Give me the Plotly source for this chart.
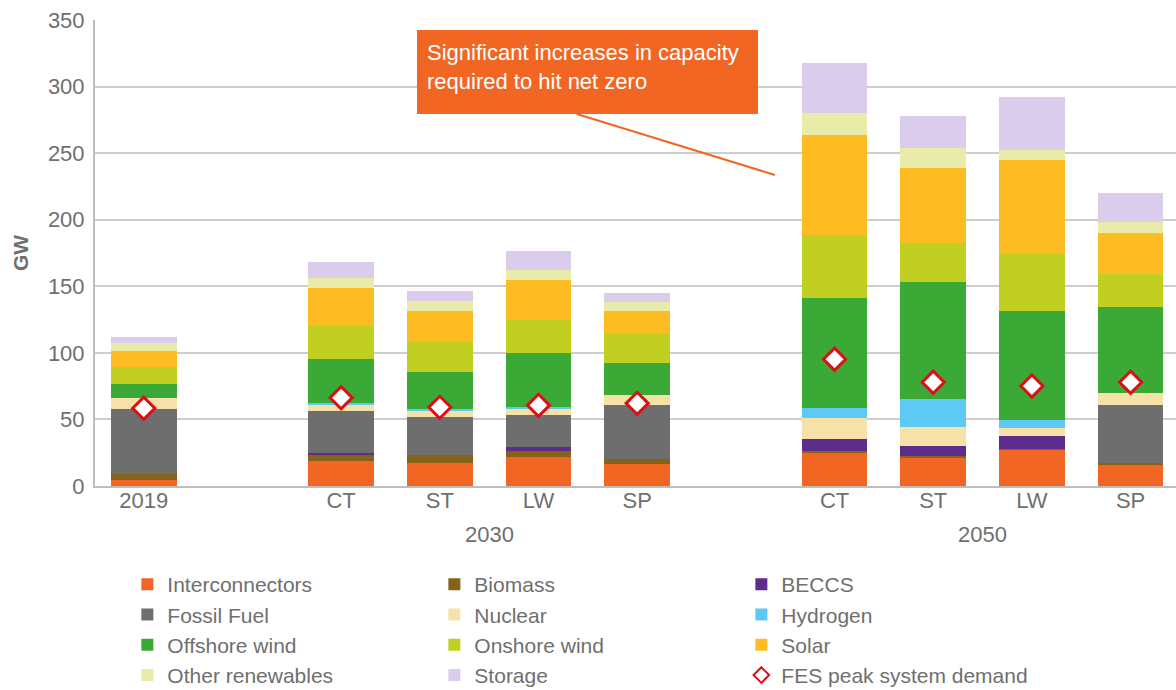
import plotly.graph_objects as go

# ---- data ----
categories = ["2019", "2030 CT", "2030 ST", "2030 LW", "2030 SP",
              "2050 CT", "2050 ST", "2050 LW", "2050 SP"]
tick_labels = ["2019", "CT", "ST", "LW", "SP", "CT", "ST", "LW", "SP"]
group_labels = ["2030", "2050"]

interconnectors = [4.5, 19.0, 17.5, 22.0, 16.3, 25.0, 21.5, 27.5, 15.8]
biomass = [4.3, 4.5, 5.6, 4.3, 3.7, 1.5, 1.3, 0.3, 1.2]
beccs = [0.0, 1.0, 0.0, 2.8, 0.0, 8.6, 7.5, 9.8, 0.0]
fossil_fuel = [49.1, 31.7, 29.0, 24.5, 40.6, 0.0, 0.0, 0.0, 43.6]
nuclear = [8.4, 4.3, 4.2, 4.3, 7.5, 15.7, 14.3, 6.2, 9.0]
hydrogen = [0.0, 1.5, 1.8, 1.7, 0.0, 7.6, 20.8, 5.8, 0.0]
offshore_wind = [10.1, 33.6, 27.3, 40.1, 24.5, 82.6, 88.1, 82.1, 65.1]
onshore_wind = [13.2, 24.7, 22.8, 25.0, 22.1, 47.6, 29.3, 42.4, 24.8]
solar = [11.8, 28.6, 23.3, 30.1, 17.0, 75.0, 56.4, 70.8, 30.6]
other_renewables = [5.8, 7.5, 7.5, 7.5, 6.3, 16.3, 14.5, 7.3, 8.0]
storage = [4.5, 12.0, 7.5, 14.3, 7.3, 37.6, 24.5, 40.3, 22.3]
peak_demand = [58.4, 66.3, 59.1, 60.6, 62.1, 95.2, 77.9, 75.1, 77.9]

# ---- styles ----
series = [
    ("Interconnectors", interconnectors, "#F26624"),
    ("Biomass", biomass, "#856419"),
    ("BECCS", beccs, "#5E2C8C"),
    ("Fossil Fuel", fossil_fuel, "#6E6E6E"),
    ("Nuclear", nuclear, "#F6E1A8"),
    ("Hydrogen", hydrogen, "#5DC9F4"),
    ("Offshore wind", offshore_wind, "#3BA935"),
    ("Onshore wind", onshore_wind, "#C1CF23"),
    ("Solar", solar, "#FDBC22"),
    ("Other renewables", other_renewables, "#E9ECA9"),
    ("Storage", storage, "#DACCEB"),
]

FONT = "Liberation Sans, Arial, Helvetica, sans-serif"
GREY = "#6F6F6F"
FS = 22

# category order with empty spacer slots between the year groups
cat_order = [categories[0], "gap1"] + categories[1:5] + ["gap2"] + categories[5:]

fig = go.Figure()
for name, vals, color in series:
    fig.add_trace(go.Bar(
        name=name, x=categories, y=vals,
        marker=dict(color=color, line=dict(width=0)),
    ))

fig.add_trace(go.Scatter(
    name="FES peak system demand", x=categories, y=peak_demand,
    mode="markers",
    marker=dict(symbol="diamond", size=17, color="white",
                line=dict(color="#DD0F16", width=3)),
))

fig.update_layout(
    width=1176, height=690,
    barmode="stack", bargap=0.336,
    plot_bgcolor="white", paper_bgcolor="white",
    margin=dict(l=95, r=0, t=20, b=204, autoexpand=False),
    font=dict(family=FONT, size=FS, color=GREY),
    showlegend=True,
    legend=dict(
        orientation="h", traceorder="normal",
        xref="container", yref="container",
        x=0.1083, y=0.1826, xanchor="left", yanchor="top",
        entrywidth=262, entrywidthmode="pixels",
        itemsizing="constant",
        font=dict(family=FONT, size=21, color=GREY),
        tracegroupgap=0,
    ),
    xaxis=dict(
        type="category", categoryorder="array", categoryarray=cat_order,
        tickmode="array", tickvals=categories, ticktext=tick_labels,
        range=[-0.494, 10.46], automargin=False,
        showline=True, linecolor="#BDBDBD", linewidth=2,
        showgrid=False, ticks="", ticklabelstandoff=-6,
        tickfont=dict(family=FONT, size=FS, color=GREY),
    ),
    yaxis=dict(
        range=[0, 350], dtick=50, automargin=False,
        showline=True, linecolor="#BDBDBD", linewidth=2,
        showgrid=True, gridcolor="#CDCDCD", gridwidth=1.5,
        zeroline=False, ticks="",
        ticklabelstandoff=4,
        tickfont=dict(family=FONT, size=FS, color=GREY),
        title=dict(text="<b>GW</b>", standoff=14,
                   font=dict(family=FONT, size=21, color=GREY)),
    ),
)

# group labels
for lbl, xpos in zip(group_labels, [3.5, 8.5]):
    fig.add_annotation(
        text=lbl, x=xpos, xref="x", y=-0.105, yref="paper",
        showarrow=False, xanchor="center", yanchor="middle",
        font=dict(family=FONT, size=FS, color=GREY),
    )

# callout box and connector line
fig.add_shape(type="line", xref="x", yref="y",
              x0=4.388, y0=279.4, x1=6.395, y1=233.6,
              line=dict(color="#F26624", width=2))
fig.add_annotation(
    text="Significant increases in capacity<br>required to hit net zero",
    xref="x", yref="y", x=2.766, y=342.5,
    xanchor="left", yanchor="top", showarrow=False,
    align="left", valign="top",
    width=321, height=64, borderpad=10, borderwidth=0,
    bgcolor="#F26624",
    font=dict(family=FONT, size=FS, color="white"),
)

fig.write_html("out.html",
               config={"displayModeBar": False},
               post_script="document.body.style.margin='0';")
